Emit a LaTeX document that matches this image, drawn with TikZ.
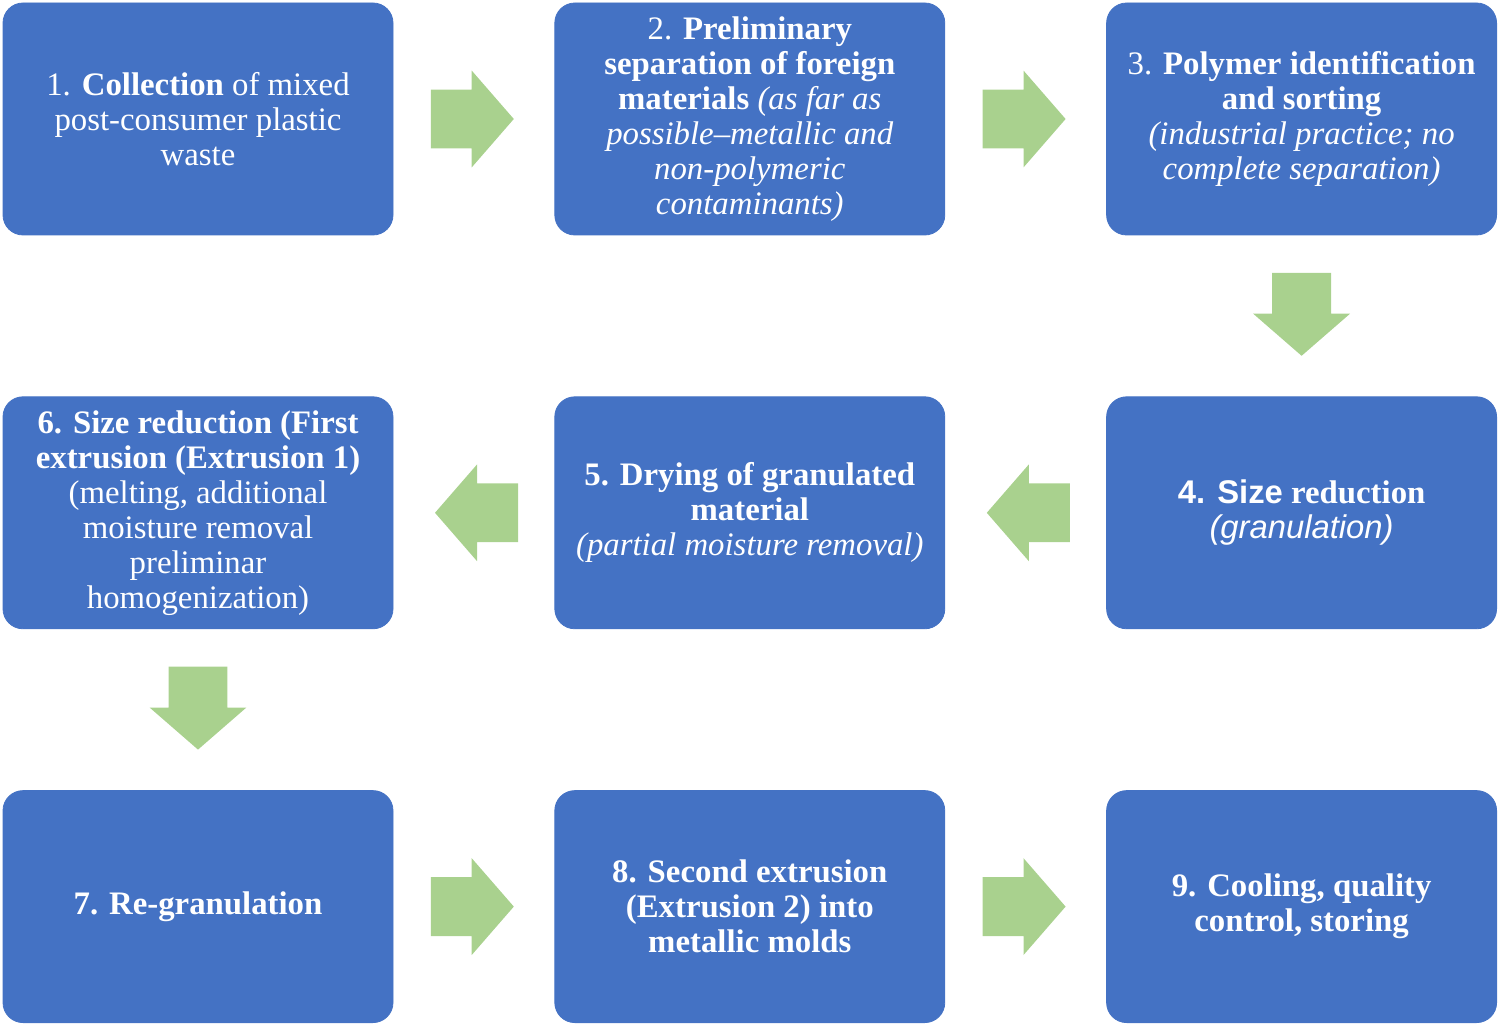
\documentclass[tikz,border=0pt]{standalone}
\usepackage{fontspec}
\setmainfont{Liberation Serif}
\setsansfont{Liberation Sans}
\usetikzlibrary{positioning,shapes.arrows,calc}
\definecolor{boxblue}{HTML}{4472C4}
\definecolor{flowgreen}{HTML}{A9D18E}

\begin{document}
\begin{tikzpicture}[
      node distance=80.5pt and 80.5pt,
      stepbox/.style={fill=boxblue, draw=boxblue, rounded corners=10pt, minimum width=195pt, minimum height=116pt, inner sep=0pt, align=center, text=white, font=\fontsize{16.4}{17.5}\selectfont},
      flow/.style={single arrow, fill=flowgreen, draw=none, anchor=tail, minimum height=41.5pt, inner xsep=0pt, inner ysep=14.5pt, single arrow head extend=9.5pt, single arrow tip angle=98},
    ]
    \useasboundingbox (0,0) rectangle (750pt,-513pt);
    % row 1
    \node[stepbox] (collect) at (99pt,-59.5pt) {1. \textbf{Collection} of mixed\\post-consumer plastic\\waste};
    \node[stepbox, right=of collect] (separate) {2. \textbf{Preliminary}\\\textbf{separation of foreign}\\\textbf{materials} \textit{(as far as}\\\textit{possible--metallic and}\\\textit{non-polymeric}\\\textit{contaminants)}};
    \node[stepbox, right=of separate] (sort) {3. \textbf{Polymer identification}\\\textbf{and sorting}\\\textit{(industrial practice; no}\\\textit{complete separation)}};
    % row 2
    \node[stepbox, below=of sort] (granul) {\textbf{{\sffamily 4. Size} reduction}\\{\sffamily\itshape (granulation)}};
    \node[stepbox, left=of granul] (dry) {\textbf{5. Drying of granulated}\\\textbf{material}\\\textit{(partial moisture removal)}};
    \node[stepbox, left=of dry] (extr1) {\textbf{6. Size reduction (First}\\\textbf{extrusion (Extrusion 1)}\\(melting, additional\\moisture removal\\preliminar\\homogenization)};
    % row 3
    \node[stepbox, below=of extr1] (regran) {\textbf{7. Re-granulation}};
    \node[stepbox, right=of regran] (extr2) {\textbf{8. Second extrusion}\\\textbf{(Extrusion 2) into}\\\textbf{metallic molds}};
    \node[stepbox, right=of extr2] (store) {\textbf{9. Cooling, quality}\\\textbf{control, storing}};
    % green arrows
    \node[flow] (a12) at ($(collect.east)+(18.5pt,0)$) {};
    \node[flow] (a23) at ($(separate.east)+(18.5pt,0)$) {};
    \node[flow, rotate=-90] (a34) at ($(sort.south)+(0,-18.5pt)$) {};
    \node[flow, rotate=180] (a45) at ($(granul.west)+(-18pt,0)$) {};
    \node[flow, rotate=180] (a56) at ($(dry.west)+(-18pt,0)$) {};
    \node[flow, rotate=-90] (a67) at ($(extr1.south)+(0,-18.5pt)$) {};
    \node[flow] (a78) at ($(regran.east)+(18.5pt,0)$) {};
    \node[flow] (a89) at ($(extr2.east)+(18.5pt,0)$) {};
  \end{tikzpicture}
\end{document}
